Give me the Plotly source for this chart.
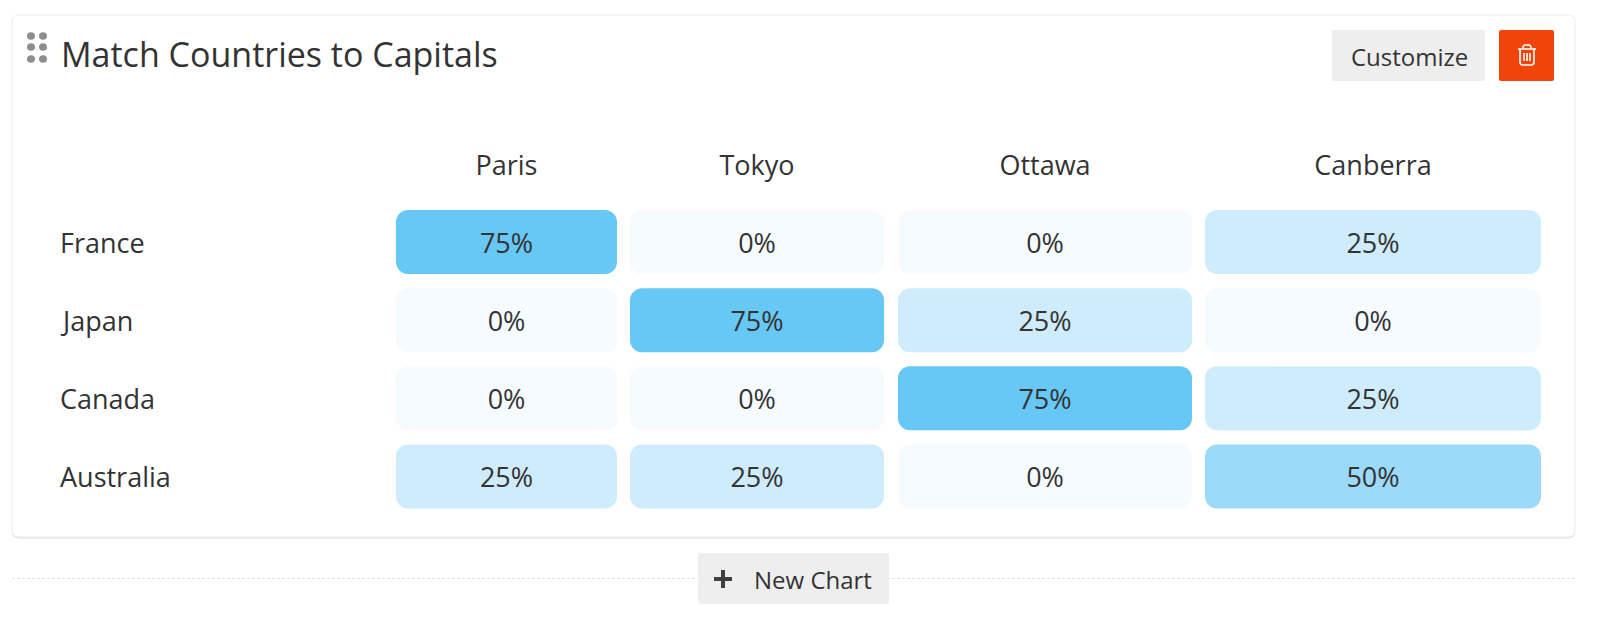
import plotly.graph_objects as go

# ---- data ----
title = "Match Countries to Capitals"
countries = ["France", "Japan", "Canada", "Australia"]
capitals = ["Paris", "Tokyo", "Ottawa", "Canberra"]
paris = [75, 0, 0, 25]
tokyo = [0, 75, 0, 25]
ottawa = [0, 25, 75, 0]
canberra = [25, 0, 25, 50]
series = [paris, tokyo, ottawa, canberra]

# ---- layout constants (pixel space of the page) ----
W, H = 1600, 621
col_left = [396, 630, 898, 1205]
col_width = [221, 254, 294, 336]
row_top, row_bottom = 203, 515.5
FONT = "Open Sans"
INK = "#333333"
colorscale = [[0, "#F6FBFF"], [1 / 3, "#CFECFD"], [2 / 3, "#9CDAF9"], [1, "#67C8F6"]]

fig = go.Figure()
for name, vals, left, width in zip(capitals, series, col_left, col_width):
    fig.add_trace(go.Bar(
        name=name, y=countries, x=[width] * len(vals), base=[left] * len(vals),
        orientation="h", width=0.82, xaxis="x", yaxis="y2",
        marker=dict(color=vals, cmin=0, cmax=75, colorscale=colorscale,
                    cornerradius=12, line=dict(width=0)),
        text=[f"{v}%" for v in vals], textposition="inside", insidetextanchor="middle",
        textangle=0, constraintext="none",
        insidetextfont=dict(family=FONT, size=27, color=INK),
        hoverinfo="skip", showlegend=False,
    ))


def rrect(x0, y0, x1, y1, r):
    return (f"M{x0+r},{y0} L{x1-r},{y0} Q{x1},{y0} {x1},{y0+r} L{x1},{y1-r} Q{x1},{y1} {x1-r},{y1} "
            f"L{x0+r},{y1} Q{x0},{y1} {x0},{y1-r} L{x0},{y0+r} Q{x0},{y0} {x0+r},{y0} Z")


def shp(path=None, fill=None, line=None, lw=0, **kw):
    d = dict(type="path", path=path, xref="x", yref="y", layer="below",
             fillcolor=fill or "rgba(0,0,0,0)", line=dict(width=lw, color=line or "rgba(0,0,0,0)"))
    d.update(kw)
    return d


shapes = [
    # dashed rule behind the button
    dict(type="line", xref="x", yref="y", x0=12, x1=1575, y0=578.5, y1=578.5, layer="below",
         line=dict(color="#E3E3E3", width=1, dash="3px,2px")),
    # card shadow + card
    shp(rrect(12, 16, 1575, 538.5, 7), fill="#E2E2E2"),
    shp(rrect(12, 15, 1575, 537, 7), fill="#FFFFFF", line="#EDEDF0", lw=1),
    # buttons
    shp(rrect(1332, 30, 1485, 81, 2), fill="#EEEEEE"),
    shp(rrect(1499, 30, 1554, 81, 2), fill="#F1440A"),
    shp(rrect(698, 553, 889, 604, 2), fill="#EEEEEE"),
    # plus icon
    shp("M723,570 V588 M714,579 H732", line="#3F3F3F", lw=4),
    # trash icon
    shp("M1518,49 H1536 M1523,49 V47.5 Q1523,45 1525.5,45 H1528.5 Q1531,45 1531,47.5 V49 "
        "M1520,49 V62 Q1520,65 1523,65 H1531 Q1534,65 1534,62 V49 "
        "M1524,53 V61 M1527,53 V61 M1530,53 V61", line="#FFFFFF", lw=1.6),
]
# drag handle dots
for cy in (36, 47, 59):
    for cx in (31, 43):
        shapes.append(dict(type="circle", xref="x", yref="y", x0=cx - 4, x1=cx + 4, y0=cy - 3.8, y1=cy + 3.8,
                           layer="below", fillcolor="#8E8E8E", line=dict(width=0)))

annotations = [
    dict(text=title, x=58.5, y=54, xanchor="left", yanchor="middle", xref="x", yref="y",
         showarrow=False, font=dict(family=FONT, size=34, color=INK)),
    dict(text="Customize", x=1409, y=56, xanchor="center", yanchor="middle", xref="x", yref="y",
         showarrow=False, font=dict(family=FONT, size=24, color=INK)),
    dict(text="New Chart", x=752, y=579.5, xanchor="left", yanchor="middle", xref="x", yref="y",
         showarrow=False, font=dict(family=FONT, size=24, color=INK)),
]
for c in countries:
    annotations.append(dict(text=c, x=57.5, y=c, xanchor="left", yanchor="middle", xref="x", yref="y2",
                            showarrow=False, font=dict(family=FONT, size=27, color=INK)))

fig.update_layout(
    width=W, height=H, margin=dict(l=0, r=0, t=0, b=0),
    paper_bgcolor="#FFFFFF", plot_bgcolor="rgba(0,0,0,0)",
    barmode="overlay", shapes=shapes, annotations=annotations,
    xaxis=dict(range=[0, W], domain=[0, 1], side="top", anchor="y2", showgrid=False, zeroline=False,
               showline=False, ticks="outside", ticklen=16, tickcolor="rgba(0,0,0,0)",
               tickvals=[l + w / 2 for l, w in zip(col_left, col_width)], ticktext=capitals,
               tickfont=dict(family=FONT, size=27, color=INK), fixedrange=True),
    yaxis2=dict(type="category", categoryorder="array", categoryarray=countries,
                range=[3.5, -0.5], domain=[1 - row_bottom / H, 1 - row_top / H], anchor="x",
                showgrid=False, zeroline=False, showline=False, showticklabels=False, ticks="", fixedrange=True),
    yaxis=dict(range=[H, 0], domain=[0, 1], anchor="x", visible=False, fixedrange=True),
)

fig.write_html("out.html", config=dict(displayModeBar=False),
               post_script="document.body.style.margin='0';document.body.style.overflow='hidden';")
